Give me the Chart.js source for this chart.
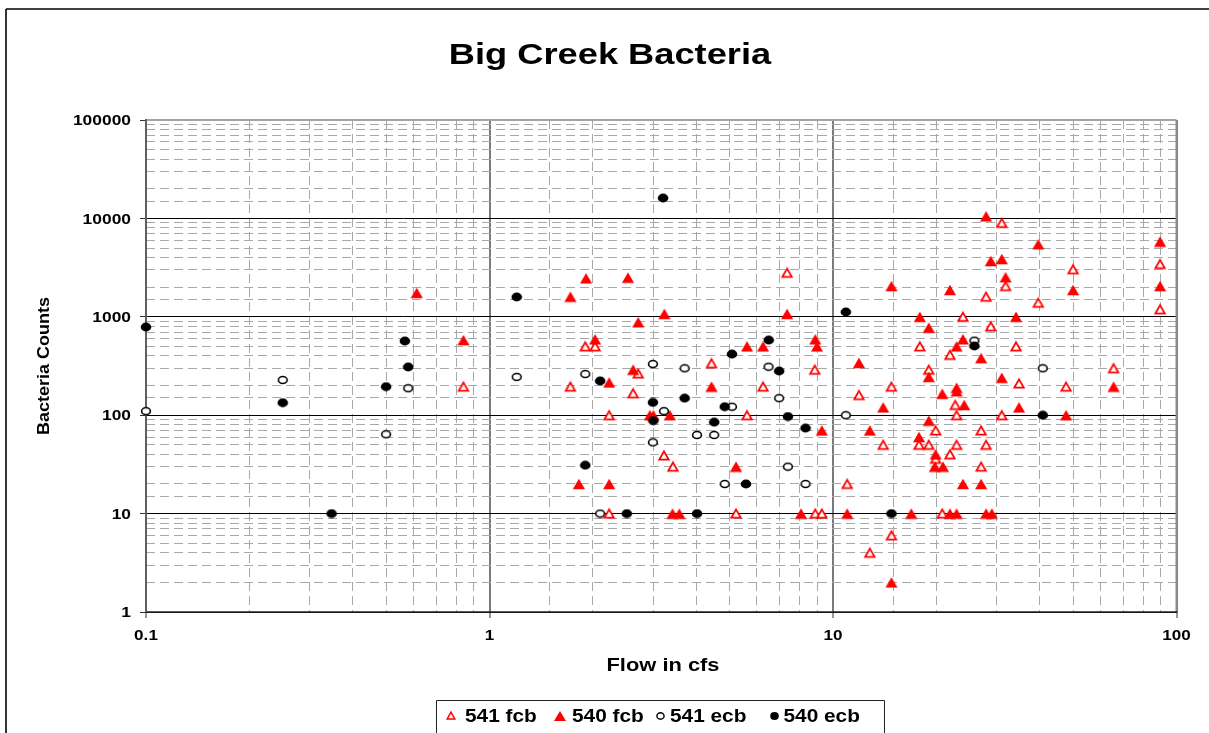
<!DOCTYPE html>
<html><head><meta charset="utf-8">
<script src="https://cdn.jsdelivr.net/npm/chart.js@4.4.1/dist/chart.umd.min.js"></script>
<style>html,body{margin:0;padding:0;background:#fff;}canvas{display:block;}</style>
</head><body>
<canvas id="c" width="1209" height="733"></canvas>
<script>
const chartTitle = 'Big Creek Bacteria';
const xAxisTitle = 'Flow in cfs';
const yAxisTitle = 'Bacteria Counts';
const seriesNames = ['541 fcb', '540 fcb', '541 ecb', '540 ecb'];
const xTickValues = [0.1, 1, 10, 100];
const xTickLabels = ['0.1', '1', '10', '100'];
const yTickValues = [1, 10, 100, 1000, 10000, 100000];
const yTickLabels = ['1', '10', '100', '1000', '10000', '100000'];

// [flow, count]
const s541fcb = [
 [0.84,195],[1.72,195],[1.9,500],[2.03,500],[2.23,100],[2.23,10],[2.62,167],[2.71,265],
 [3.22,39],[3.42,30],[4.43,337],[5.22,10],[5.62,100],[6.26,195],[7.35,2800],[8.85,290],
 [8.88,10],[9.28,10],[11,20],[11.9,160],[12.8,4],[14,50],[14.8,195],[14.8,6],[17.8,50],
 [17.9,500],[19,290],[19,50],[19.9,70],[19.9,36],[20.8,10],[21.9,410],[21.9,40],[22.7,127],
 [22.9,100],[22.9,50],[23.9,1000],[27,70],[27,30],[27.9,1600],[27.9,50],[28.8,800],
 [31,9000],[31,100],[31.8,2050],[34.1,500],[34.8,210],[39.6,1390],[47.7,195],[50,3040],
 [65.6,300],[89.6,3440],[89.6,1190]
];
const s540fcb = [
 [0.614,1750],[0.84,580],[1.72,1600],[1.82,20],[1.91,2460],[2.03,590],[2.23,215],[2.23,20],
 [2.53,2500],[2.62,290],[2.71,880],[2.93,100],[3.0,100],[3.23,1070],[3.35,100],[3.41,10],
 [3.57,10],[4.43,195],[5.22,30],[5.62,500],[6.26,500],[7.35,1070],[8.07,10],[8.88,590],
 [8.98,500],[9.28,70],[11,10],[11.9,340],[12.8,70],[14,120],[14.8,2050],[14.8,2],[16.9,10],
 [17.8,60],[17.9,1000],[19,775],[19,245],[19,88],[19.8,30],[19.9,40],[20.8,165],[20.9,30],
 [21.9,1870],[21.9,10],[22.9,500],[22.9,190],[22.9,175],[22.9,10],[23.9,590],[23.9,20],
 [24.1,127],[27,380],[27,20],[27.9,10500],[27.9,10],[28.8,3690],[29,10],[31,3865],[31,240],
 [31.8,2520],[34.1,1000],[34.8,120],[39.6,5460],[47.7,100],[50,1870],[65.6,195],[89.6,5800],
 [89.6,2050]
];
const s541ecb = [
 [0.1,110],[0.25,228],[0.5,64],[0.58,188],[1.2,245],[1.9,262],[2.1,10],[2.99,331],[2.99,53],
 [3.22,110],[3.7,300],[4.02,63],[4.51,63],[4.84,20],[5.08,122],[6.49,311],[6.97,149],
 [7.39,30],[8.32,20],[10.9,100],[25.8,572],[40.8,300]
];
const s540ecb = [
 [0.1,787],[0.25,134],[0.347,10],[0.5,195],[0.567,567],[0.58,309],[1.2,1590],[1.9,31],
 [2.1,223],[2.51,10],[2.99,135],[3.0,88],[3.2,16100],[3.7,149],[4.02,10],[4.51,85],
 [4.84,122],[5.08,418],[5.58,20],[6.5,580],[6.97,281],[7.39,97],[8.32,74],[10.9,1120],
 [14.8,10],[25.8,505],[40.8,100]
];

function isDecade(v) { const l = Math.log10(v); return Math.abs(l - Math.round(l)) < 1e-6; }

function makeCanvas(w, h, fn) { const c = document.createElement('canvas'); c.width = w; c.height = h; fn(c.getContext('2d'), w / 2, h / 2); return c; }
function triMarker(cw, ch, tw, th, fill, stroke, lw) {
  return makeCanvas(cw, ch, (g, cx, cy) => {
    g.beginPath(); g.moveTo(cx, cy - th / 2); g.lineTo(cx + tw / 2, cy + th / 2); g.lineTo(cx - tw / 2, cy + th / 2); g.closePath();
    if (fill) { g.fillStyle = fill; g.fill(); }
    if (stroke) { g.strokeStyle = stroke; g.lineWidth = lw; g.stroke(); }
  });
}
function ellMarker(cw, ch, rx, ry, fill, stroke, lw) {
  return makeCanvas(cw, ch, (g, cx, cy) => {
    g.beginPath(); g.ellipse(cx, cy, rx, ry, 0, 0, Math.PI * 2);
    if (fill) { g.fillStyle = fill; g.fill(); }
    if (stroke) { g.strokeStyle = stroke; g.lineWidth = lw; g.stroke(); }
  });
}
const RED = '#ff0000';
const mOpenTri = triMarker(14, 13, 9.4, 8.2, '#ffffff', RED, 1.8);
const mFillTri = triMarker(14, 12, 12.2, 10.4, RED, null, 0);
const mOpenCir = ellMarker(12, 10, 4.4, 3.5, '#ffffff', '#000000', 1.6);
const mFillCir = ellMarker(12, 10, 5.3, 4.4, '#000000', null, 0);
const lOpenTri = triMarker(12, 11, 7.6, 6.8, '#ffffff', RED, 1.5);
const lFillTri = triMarker(14, 12, 12, 10, RED, null, 0);
const lOpenCir = ellMarker(11, 10, 3.6, 3.2, '#ffffff', '#000000', 1.4);
const lFillCir = ellMarker(11, 10, 4.3, 3.9, '#000000', null, 0);

const toPts = arr => arr.map(p => ({ x: p[0], y: p[1] }));
const FONT = '"Liberation Sans", Arial, Helvetica, sans-serif';

function sText(ctx, text, x, y, sx, align, font) {
  ctx.save(); ctx.font = font; ctx.fillStyle = '#000'; ctx.textBaseline = 'alphabetic';
  ctx.translate(x, y); ctx.scale(sx, 1); ctx.textAlign = align; ctx.fillText(text, 0, 0); ctx.restore();
}
function hline(ctx, x1, y1, x2, y2, color, w) { ctx.beginPath(); ctx.strokeStyle = color; ctx.lineWidth = w; ctx.moveTo(x1, y1); ctx.lineTo(x2, y2); ctx.stroke(); }

const decor = {
  id: 'decor',
  beforeDatasetsDraw(chart) {
    const { ctx, chartArea: a } = chart;
    ctx.save();
    hline(ctx, a.left, a.top, a.right, a.top, '#a4a4a4', 2);
    hline(ctx, a.right, a.top, a.right, a.bottom, '#8c8c8c', 2);
    hline(ctx, a.left - 1, a.bottom, a.right + 1, a.bottom, '#222222', 1.5);
    hline(ctx, a.left, a.top - 1, a.left, a.bottom, '#606060', 2);
    ctx.restore();
  },
  afterDraw(chart) {
    const { ctx } = chart;
    const xs = chart.scales.x, ys = chart.scales.y;
    ctx.save();
    hline(ctx, 6, 9, 1215, 9, '#000', 1.6);
    hline(ctx, 6, 9, 6, 740, '#000', 1.6);
    sText(ctx, chartTitle, 610, 64, 1.25, 'center', 'bold 29px ' + FONT);
    const tf = 'bold 14.5px ' + FONT;
    yTickValues.forEach((v, i) => sText(ctx, yTickLabels[i], 131, ys.getPixelForValue(v) + 5.2, 1.2, 'right', tf));
    xTickValues.forEach((v, i) => sText(ctx, xTickLabels[i], xs.getPixelForValue(v), 640, 1.18, 'center', tf));
    sText(ctx, xAxisTitle, 663, 671, 1.25, 'center', 'bold 17.5px ' + FONT);
    ctx.save(); ctx.translate(48.5, 366); ctx.rotate(-Math.PI / 2);
    sText(ctx, yAxisTitle, 0, 0, 1.06, 'center', 'bold 17px ' + FONT); ctx.restore();
    ctx.beginPath(); ctx.strokeStyle = '#222'; ctx.lineWidth = 1;
    ctx.moveTo(436.5, 740); ctx.lineTo(436.5, 700.5); ctx.lineTo(884.5, 700.5); ctx.lineTo(884.5, 740); ctx.stroke();
    const lm = [[lOpenTri, 451, 465], [lFillTri, 560, 572], [lOpenCir, 660, 670], [lFillCir, 774, 783.5]];
    lm.forEach((m, i) => {
      ctx.drawImage(m[0], Math.round(m[1] - m[0].width / 2), Math.round(715.5 - m[0].height / 2));
      sText(ctx, seriesNames[i], m[2], 721.5, 1.19, 'left', 'bold 17.5px ' + FONT);
    });
    ctx.restore();
  }
};

const gridFor = (majorColor, majorWidth) => ({
  display: true,
  drawOnChartArea: true,
  color: c => isDecade(c.tick.value) ? majorColor : '#a8a8a8',
  lineWidth: c => isDecade(c.tick.value) ? majorWidth : 1,
  drawTicks: true,
  tickLength: 6,
  tickWidth: 1,
  tickColor: c => isDecade(c.tick.value) ? '#333' : 'rgba(0,0,0,0)'
});

new Chart(document.getElementById('c'), {
  type: 'scatter',
  data: {
    datasets: [
      { label: seriesNames[0], data: toPts(s541fcb), pointStyle: mOpenTri, pointRadius: 5, order: 4, clip: false },
      { label: seriesNames[1], data: toPts(s540fcb), pointStyle: mFillTri, pointRadius: 5, order: 3, clip: false },
      { label: seriesNames[2], data: toPts(s541ecb), pointStyle: mOpenCir, pointRadius: 5, order: 2, clip: false },
      { label: seriesNames[3], data: toPts(s540ecb), pointStyle: mFillCir, pointRadius: 5, order: 1, clip: false }
    ]
  },
  options: {
    responsive: false,
    animation: false,
    devicePixelRatio: 1,
    layout: { padding: { top: 120, right: 32.5, bottom: 0, left: 0 } },
    plugins: { legend: { display: false }, title: { display: false }, tooltip: { enabled: false } },
    events: [],
    scales: {
      x: {
        type: 'logarithmic', min: 0.1, max: 100, position: 'bottom',
        ticks: { display: false, autoSkip: false },
        grid: gridFor('#7a7a7a', 2),
        border: { display: false, dash: c => isDecade(c.tick.value) ? [] : [9, 5] },
        afterFit: s => { s.height = 121; }
      },
      y: {
        type: 'logarithmic', min: 1, max: 100000, position: 'left',
        ticks: { display: false, autoSkip: false },
        grid: gridFor('#000000', 1),
        border: { display: false, dash: c => isDecade(c.tick.value) ? [] : [9, 5] },
        afterFit: s => { s.width = 146; }
      }
    }
  },
  plugins: [decor]
});
</script>
</body></html>
